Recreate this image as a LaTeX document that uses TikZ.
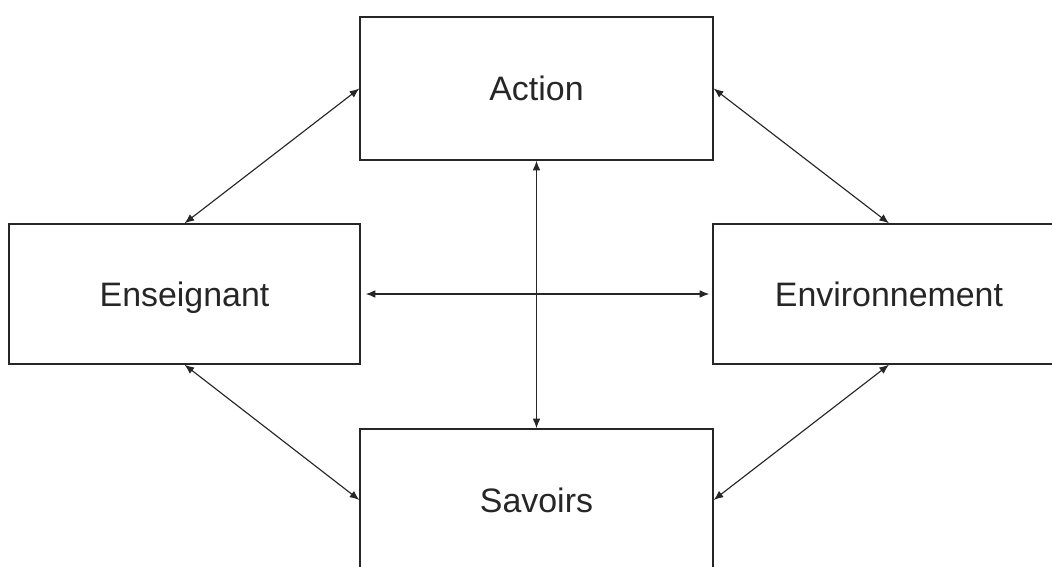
\documentclass[tikz,border=0pt]{standalone}
\usepackage{fontspec}
\setmainfont{Liberation Sans}
\usetikzlibrary{arrows.meta}
\begin{document}
\begin{tikzpicture}[x=0.02cm,y=-0.02cm,
  box/.style={draw=black!85,line width=0.8pt,rectangle,inner sep=0pt,font=\fontsize{19.3}{23}\selectfont,text=black!85,text height=13.8pt,text depth=0pt},
  link/.style={{Latex[length=5.5pt,width=4.4pt]}-{Latex[length=5.5pt,width=4.4pt]},line width=0.65pt,draw=black!85}]
\useasboundingbox (0,0) rectangle (1052,567);
\clip (0,0) rectangle (1052,567);
\node[box,minimum width=7.06cm,minimum height=2.86cm] (act) at (536.5,88.5) {Action};
\node[box,minimum width=7.02cm,minimum height=2.80cm] (ens) at (184.5,294) {Enseignant};
\node[box,minimum width=7.04cm,minimum height=2.80cm] (env) at (889,294) {Environnement};
\node[box,minimum width=7.06cm,minimum height=2.84cm] (sav) at (536.5,500) {Savoirs};
\draw[link] (ens.north) -- (act.west);
\draw[link] (act.east) -- (env.north);
\draw[link] ([xshift=0.1cm]ens.east) -- ([xshift=-0.06cm]env.west);
\draw[link] (act.south) -- (sav.north);
\draw[link] (ens.south) -- (sav.west);
\draw[link] (env.south) -- (sav.east);
\end{tikzpicture}
\end{document}
